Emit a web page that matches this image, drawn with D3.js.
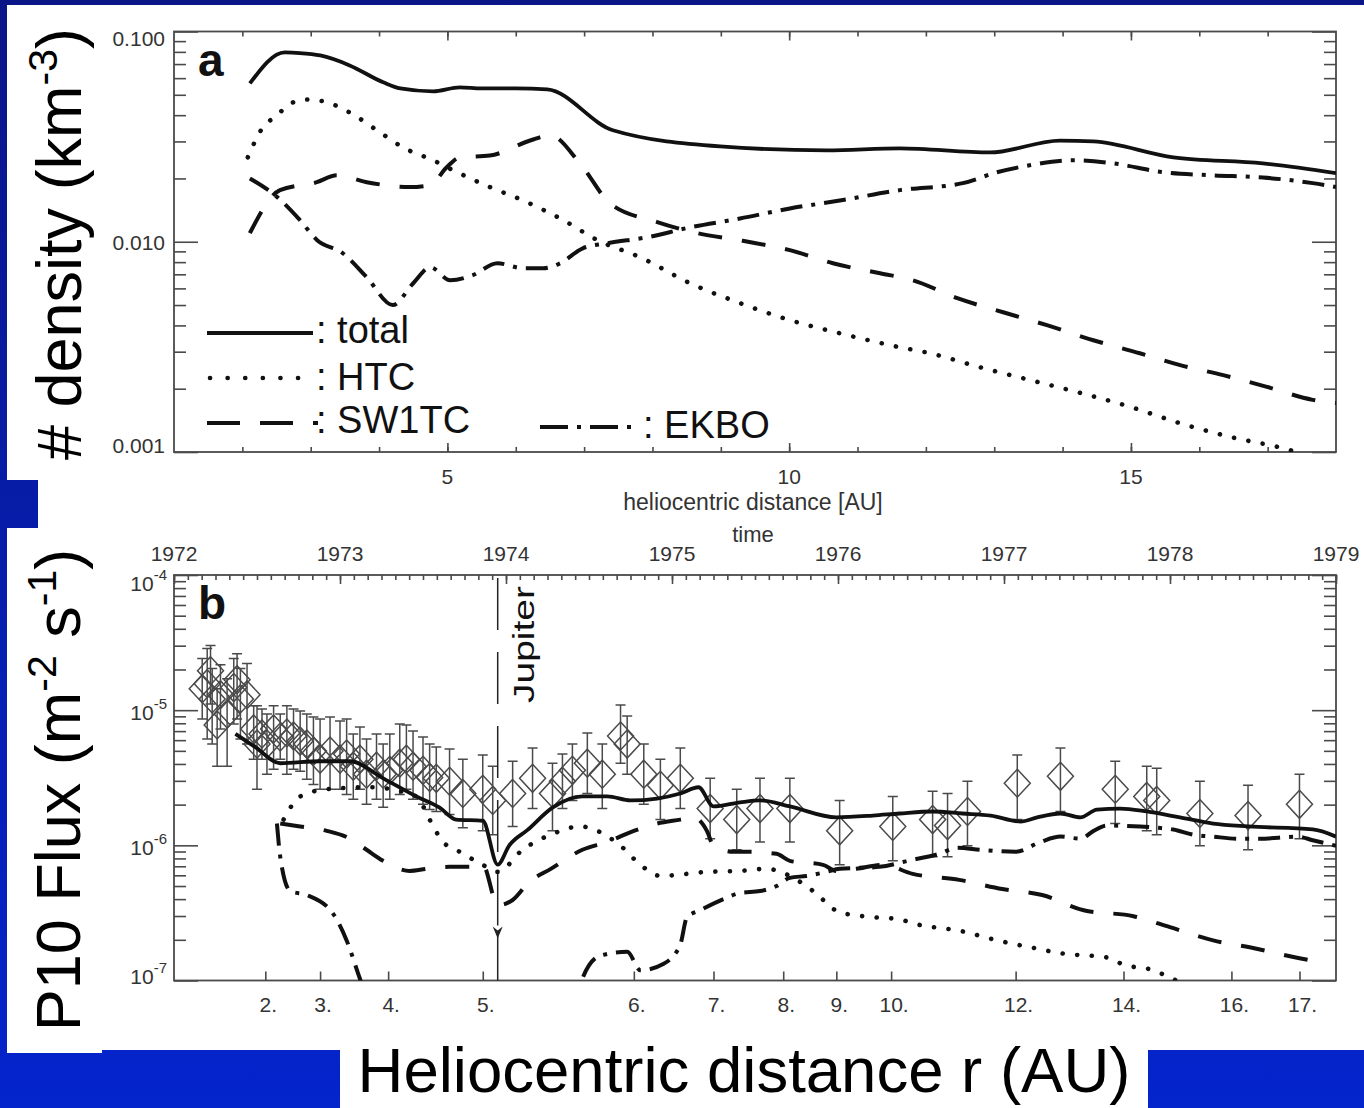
<!DOCTYPE html>
<html>
<head>
<meta charset="utf-8">
<title>dust density and P10 flux</title>
<script src="https://cdn.jsdelivr.net/npm/d3@7"></script>
<style>
  body { margin: 0; background: #fff; }
  svg { display: block; font-family: "Liberation Sans", Arial, Helvetica, sans-serif; }
</style>
</head>
<body>
<svg id="chart" width="1364" height="1108"></svg>
<script>
//panel a: number density [km-3] against heliocentric distance [AU]
let aTotalDist = [2.11, 2.62, 2.84, 3.14, 3.57, 4.06, 4.31, 4.79, 5.18, 5.5, 6.0, 6.46, 7.42, 8.99, 10.55, 11.62, 12.94, 13.96, 14.45, 15.62, 16.93, 18.0];
let aTotal = [0.0566, 0.0795, 0.0790, 0.0769, 0.0690, 0.0573, 0.0536, 0.0519, 0.0542, 0.0536, 0.0536, 0.0530, 0.0339, 0.0284, 0.0272, 0.0278, 0.0266, 0.0303, 0.0300, 0.0252, 0.0236, 0.0212];

let aHtcDist = [2.08, 2.30, 2.51, 2.70, 2.99, 3.24, 3.57, 3.97, 4.35, 4.79, 5.08, 5.62, 6.11, 6.69, 7.19, 7.82, 8.55, 9.28, 10.01, 10.74, 11.62, 12.06, 12.79, 13.52, 14.26, 14.99, 15.72, 16.45, 17.33, 18.0];
let aHtc = [0.0252, 0.0350, 0.0399, 0.0455, 0.0475, 0.0460, 0.0412, 0.0339, 0.0281, 0.0244, 0.0219, 0.0182, 0.0157, 0.0127, 0.0102, 0.00844, 0.00635, 0.00511, 0.00424, 0.00367, 0.00315, 0.00295, 0.00253, 0.00220, 0.00191, 0.00164, 0.00137, 0.00118, 0.00102, 0.00085];

let aSwDist = [2.11, 2.55, 3.09, 3.38, 3.82, 4.45, 4.75, 4.99, 5.18, 5.62, 6.21, 6.50, 6.98, 7.38, 8.07, 8.65, 9.32, 10.01, 10.64, 11.33, 11.81, 12.46, 13.13, 13.77, 14.45, 15.13, 15.72, 16.35, 16.99, 17.66, 18.0];
let aSw = [0.0110, 0.0176, 0.0192, 0.0207, 0.0192, 0.0182, 0.0186, 0.0226, 0.0252, 0.0257, 0.0303, 0.0321, 0.0226, 0.0152, 0.0124, 0.0110, 0.0101, 0.00912, 0.00790, 0.00708, 0.00656, 0.00539, 0.00462, 0.00401, 0.00340, 0.00295, 0.00259, 0.00232, 0.00204, 0.00177, 0.00171];

let aEkDist = [2.11, 2.51, 2.84, 3.09, 3.47, 3.82, 4.20, 4.50, 4.75, 5.04, 5.37, 5.73, 6.11, 6.40, 6.65, 6.98, 7.34, 7.92, 8.55, 9.28, 10.01, 10.74, 11.62, 12.54, 13.04, 13.52, 14.15, 14.74, 15.47, 16.20, 16.93, 17.66, 18.0];
let aEk = [0.0200, 0.0163, 0.0127, 0.0102, 0.00882, 0.00678, 0.00500, 0.00635, 0.00756, 0.00656, 0.00693, 0.00790, 0.00748, 0.00748, 0.00790, 0.00931, 0.00984, 0.0105, 0.0117, 0.0129, 0.0144, 0.0157, 0.0176, 0.0190, 0.0214, 0.0231, 0.0244, 0.0236, 0.0214, 0.0207, 0.0202, 0.0190, 0.0182];

//panel b: model flux [m-2 s-1] against time
let bTotalYear = [1972.37, 1972.49, 1972.64, 1972.88, 1973.06, 1973.26, 1973.46, 1973.60, 1973.70, 1973.86, 1973.95, 1974.02, 1974.13, 1974.28, 1974.46, 1974.61, 1974.75, 1974.91, 1975.05, 1975.16, 1975.25, 1975.41, 1975.53, 1975.71, 1975.99, 1976.21, 1976.37, 1976.57, 1976.75, 1976.92, 1977.10, 1977.20, 1977.34, 1977.46, 1977.56, 1977.70, 1977.86, 1978.06, 1978.26, 1978.47, 1978.86, 1979.00];
let bTotal = [6.67e-6, 5.33e-6, 4.05e-6, 4.19e-6, 4.19e-6, 3.13e-6, 2.30e-6, 1.90e-6, 1.55e-6, 1.52e-6, 7.2e-7, 1.0e-6, 1.3e-6, 1.9e-6, 2.3e-6, 2.30e-6, 2.15e-6, 2.22e-6, 2.42e-6, 2.69e-6, 1.94e-6, 2.08e-6, 2.15e-6, 1.94e-6, 1.61e-6, 1.66e-6, 1.72e-6, 1.78e-6, 1.72e-6, 1.66e-6, 1.50e-6, 1.61e-6, 1.72e-6, 1.61e-6, 1.84e-6, 1.87e-6, 1.78e-6, 1.61e-6, 1.45e-6, 1.38e-6, 1.31e-6, 1.16e-6];

let bHtcYear = [1972.66, 1972.76, 1972.92, 1973.18, 1973.46, 1973.54, 1973.62, 1973.70, 1973.86, 1973.95, 1974.10, 1974.27, 1974.45, 1974.55, 1974.69, 1974.81, 1974.93, 1975.21, 1975.41, 1975.57, 1975.71, 1975.85, 1976.01, 1976.21, 1976.37, 1976.45, 1976.75, 1976.96, 1977.16, 1977.36, 1977.62, 1977.72, 1977.90, 1978.00, 1978.12];
let bHtc = [1.55e-6, 2.30e-6, 2.60e-6, 2.69e-6, 2.30e-6, 1.55e-6, 1.06e-6, 9.27e-7, 7.17e-7, 6.36e-7, 9.27e-7, 1.20e-6, 1.38e-6, 1.28e-6, 9.93e-7, 7.17e-7, 5.94e-7, 6.36e-7, 6.47e-7, 6.70e-7, 5.94e-7, 4.59e-7, 3.20e-7, 2.94e-7, 2.84e-7, 2.65e-7, 2.31e-7, 1.98e-7, 1.76e-7, 1.58e-7, 1.48e-7, 1.31e-7, 1.19e-7, 1.05e-7, 9.0e-8];

let bSwYear = [1972.64, 1972.76, 1972.92, 1973.06, 1973.16, 1973.26, 1973.42, 1973.52, 1973.66, 1973.80, 1973.86, 1973.95, 1974.04, 1974.14, 1974.27, 1974.46, 1974.61, 1974.77, 1974.91, 1975.05, 1975.13, 1975.21, 1975.25, 1975.37, 1975.47, 1975.63, 1975.71, 1975.91, 1975.99, 1976.11, 1976.27, 1976.45, 1976.73, 1976.99, 1977.23, 1977.48, 1977.78, 1978.00, 1978.26, 1978.48, 1978.78, 1978.86];
let bSw = [1.45e-6, 1.38e-6, 1.28e-6, 1.12e-6, 9.27e-7, 7.68e-7, 6.47e-7, 6.70e-7, 6.93e-7, 6.93e-7, 7.17e-7, 3.6e-7, 3.94e-7, 5.36e-7, 6.70e-7, 9.27e-7, 1.06e-6, 1.28e-6, 1.45e-6, 1.55e-6, 1.61e-6, 1.28e-6, 9.93e-7, 8.95e-7, 8.95e-7, 8.65e-7, 7.68e-7, 7.17e-7, 6.47e-7, 6.70e-7, 7.17e-7, 6.15e-7, 5.55e-7, 4.75e-7, 4.29e-7, 3.31e-7, 2.99e-7, 2.48e-7, 1.98e-7, 1.76e-7, 1.46e-7, 1.40e-7];

let bEkYear = [1972.62, 1972.64, 1972.70, 1972.80, 1972.96, 1973.04, 1973.12, 1973.30, 1974.00, 1974.40, 1974.46, 1974.57, 1974.73, 1974.81, 1974.95, 1975.05, 1975.09, 1975.17, 1975.31, 1975.41, 1975.53, 1975.63, 1975.71, 1975.81, 1975.93, 1976.01, 1976.25, 1976.42, 1976.61, 1976.72, 1976.86, 1977.07, 1977.22, 1977.34, 1977.46, 1977.54, 1977.62, 1977.82, 1977.92, 1978.02, 1978.14, 1978.26, 1978.41, 1978.54, 1978.77, 1978.86, 1979.00];
let bEk = [1.45e-6, 8.22e-7, 4.59e-7, 4.29e-7, 3.10e-7, 1.98e-7, 1.03e-7, 3e-8, 1e-8, 5e-8, 1.03e-7, 1.53e-7, 1.63e-7, 1.19e-7, 1.33e-7, 1.85e-7, 2.94e-7, 3.31e-7, 4.00e-7, 4.44e-7, 4.59e-7, 5.00e-7, 5.74e-7, 5.94e-7, 6.36e-7, 6.70e-7, 6.93e-7, 7.68e-7, 8.65e-7, 9.59e-7, 9.27e-7, 8.95e-7, 1.06e-6, 1.16e-6, 1.12e-6, 1.28e-6, 1.40e-6, 1.38e-6, 1.35e-6, 1.31e-6, 1.20e-6, 1.16e-6, 1.12e-6, 1.12e-6, 1.16e-6, 1.09e-6, 9.93e-7];

//P10 measured flux with error bars
let pYear = [1972.17, 1972.20, 1972.22, 1972.23, 1972.26, 1972.28, 1972.32, 1972.36, 1972.38, 1972.40, 1972.44, 1972.48, 1972.50, 1972.53, 1972.56, 1972.60, 1972.64, 1972.68, 1972.72, 1972.76, 1972.80, 1972.84, 1972.88, 1972.94, 1973.00, 1973.04, 1973.08, 1973.12, 1973.16, 1973.22, 1973.26, 1973.30, 1973.36, 1973.40, 1973.44, 1973.50, 1973.54, 1973.58, 1973.66, 1973.74, 1973.86, 1973.92, 1974.04, 1974.16, 1974.28, 1974.34, 1974.40, 1974.49, 1974.58, 1974.69, 1974.73, 1974.83, 1974.93, 1975.05, 1975.23, 1975.39, 1975.53, 1975.71, 1976.01, 1976.33, 1976.57, 1976.66, 1976.78, 1977.08, 1977.34, 1977.67, 1977.86, 1977.92, 1978.18, 1978.47, 1978.78];
let pFlux = [1.44e-5, 1.57e-5, 1.96e-5, 1.21e-5, 7.78e-6, 1.30e-5, 9.38e-6, 1.47e-5, 1.68e-5, 1.21e-5, 1.30e-5, 7.26e-6, 5.61e-6, 6.67e-6, 5.61e-6, 7.26e-6, 6.33e-6, 6.78e-6, 6.44e-6, 5.91e-6, 5.61e-6, 4.98e-6, 4.34e-6, 4.98e-6, 4.34e-6, 4.73e-6, 3.85e-6, 4.34e-6, 3.36e-6, 3.85e-6, 3.36e-6, 3.59e-6, 4.05e-6, 4.34e-6, 3.85e-6, 3.59e-6, 3.18e-6, 3.13e-6, 2.98e-6, 2.42e-6, 2.60e-6, 2.15e-6, 2.42e-6, 3.13e-6, 2.42e-6, 2.98e-6, 3.59e-6, 4.05e-6, 3.36e-6, 6.44e-6, 5.61e-6, 3.36e-6, 2.78e-6, 3.13e-6, 1.87e-6, 1.55e-6, 1.87e-6, 1.87e-6, 1.28e-6, 1.38e-6, 1.55e-6, 1.40e-6, 1.78e-6, 2.88e-6, 3.24e-6, 2.60e-6, 2.30e-6, 2.15e-6, 1.72e-6, 1.66e-6, 2.01e-6];
let pLow = [8.61e-6, 6.11e-6, 1.11e-5, 5.61e-6, 3.85e-6, 7.26e-6, 3.85e-6, 7.90e-6, 8.61e-6, 6.11e-6, 5.61e-6, 4.34e-6, 2.60e-6, 4.34e-6, 3.36e-6, 3.66e-6, 4.34e-6, 3.36e-6, 3.66e-6, 3.53e-6, 3.08e-6, 2.82e-6, 2.60e-6, 2.60e-6, 2.60e-6, 2.38e-6, 2.19e-6, 2.60e-6, 2.01e-6, 2.19e-6, 1.91e-6, 2.19e-6, 2.38e-6, 2.60e-6, 2.19e-6, 2.01e-6, 1.84e-6, 1.78e-6, 1.69e-6, 1.35e-6, 1.28e-6, 1.20e-6, 1.38e-6, 1.87e-6, 1.28e-6, 1.87e-6, 2.15e-6, 2.42e-6, 1.87e-6, 4.05e-6, 3.36e-6, 2.01e-6, 1.55e-6, 1.87e-6, 1.12e-6, 9.27e-7, 1.06e-6, 1.06e-6, 7.17e-7, 7.68e-7, 8.22e-7, 8.22e-7, 9.93e-7, 1.55e-6, 1.78e-6, 1.45e-6, 1.28e-6, 1.20e-6, 9.93e-7, 9.27e-7, 1.12e-6];
let pHigh = [2.41e-5, 2.86e-5, 3.01e-5, 2.03e-5, 1.44e-5, 2.17e-5, 1.71e-5, 2.41e-5, 2.62e-5, 2.03e-5, 2.21e-5, 1.08e-5, 1.08e-5, 1.02e-5, 9.38e-6, 1.08e-5, 9.38e-6, 1.08e-5, 1.02e-5, 9.88e-6, 9.38e-6, 8.91e-6, 8.61e-6, 8.91e-6, 8.32e-6, 8.61e-6, 6.67e-6, 7.52e-6, 6.11e-6, 6.67e-6, 5.61e-6, 6.67e-6, 7.90e-6, 7.78e-6, 7.02e-6, 6.33e-6, 5.61e-6, 5.33e-6, 5.15e-6, 4.34e-6, 4.65e-6, 3.85e-6, 4.19e-6, 5.24e-6, 4.05e-6, 4.73e-6, 5.61e-6, 6.78e-6, 5.61e-6, 1.09e-5, 9.07e-6, 5.61e-6, 4.34e-6, 5.24e-6, 3.13e-6, 2.60e-6, 3.13e-6, 3.13e-6, 2.15e-6, 2.30e-6, 2.51e-6, 2.42e-6, 2.98e-6, 4.65e-6, 5.24e-6, 4.19e-6, 3.85e-6, 3.72e-6, 2.98e-6, 2.78e-6, 3.36e-6];

//tick values and labels
let aXTicks = [5, 10, 15];
let aYTicks = [0.001, 0.01, 0.1];
let aYLabels = ["0.001", "0.010", "0.100"];
let yearTicks = [1972, 1973, 1974, 1975, 1976, 1977, 1978, 1979];
let distLabels = ["2.", "3.", "4.", "5.", "6.", "7.", "8.", "9.", "10.", "12.", "14.", "16.", "17."];
let distYears = [1972.55, 1972.88, 1973.29, 1973.86, 1974.77, 1975.25, 1975.67, 1975.99, 1976.32, 1977.07, 1977.72, 1978.37, 1978.78];
let bYTicks = [1e-7, 1e-6, 1e-5, 1e-4];
let bYExp = ["-7", "-6", "-5", "-4"];
let jupiterYear = 1973.95;
let jupiterArrowFlux = 2.3e-7;

//layout
let svg = d3.select("#chart");
let W = +svg.attr("width"), H = +svg.attr("height");
let left = 174, right = 1336;
let aTop = 31.5, aBottom = 452;
let bTop = 575, bBottom = 980.5;
let axisColor = "#4a4a4a", ink = "#111", labelColor = "#333";

//slide background
let defs = svg.append("defs");
let grad = defs.append("linearGradient")
    .attr("id", "slideBlue")
    .attr("gradientUnits", "userSpaceOnUse")
    .attr("x1", 0).attr("y1", 0).attr("x2", 0).attr("y2", H);
grad.append("stop").attr("offset", 0).attr("stop-color", "#0a1688");
grad.append("stop").attr("offset", 1).attr("stop-color", "#0424cc");

svg.append("rect").attr("width", W).attr("height", H).attr("fill", "url(#slideBlue)");
svg.append("rect").attr("x", 7).attr("y", 5).attr("width", W - 7).attr("height", 1045).attr("fill", "#fff");
svg.append("rect").attr("x", 0).attr("y", 480).attr("width", 38).attr("height", 48).attr("fill", "url(#slideBlue)");
svg.append("rect").attr("x", 7).attr("y", 1050).attr("width", 95).attr("height", 3).attr("fill", "#fff");
svg.append("rect").attr("x", 340).attr("y", 1050).attr("width", 808).attr("height", H - 1050).attr("fill", "#fff");

//scales
let xa = d3.scaleLinear().domain([1, 18]).range([left, right]);
let ya = d3.scaleLog().domain([0.001, 0.1]).range([aBottom, aTop]);
let xb = d3.scaleLinear().domain([1972, 1979]).range([left, right]);
let yb = d3.scaleLog().domain([1e-7, 1e-4]).range([bBottom, bTop]);

//minor ticks of a log axis, 2..9 in each decade
function logMinor(lo, hi) {
    let out = [];
    for (let e = lo; e < hi; e++) {
        for (let k = 2; k < 10; k++) out.push(k * Math.pow(10, e));
    }
    return out;
}

//draws tick marks only, labels come separately
function tickMarks(g, axis) {
    g.call(axis);
    g.select(".domain").remove();
    g.selectAll(".tick text").remove();
    g.selectAll(".tick line").attr("stroke", axisColor).attr("stroke-width", 1.6);
}

function panelAxes(x, y, top, bottom, opts) {
    let g = svg.append("g");
    g.append("g").attr("transform", "translate(" + left + ",0)")
        .call(tickMarks, d3.axisLeft(y).tickValues(opts.yMinor).tickSize(-12));
    g.append("g").attr("transform", "translate(" + left + ",0)")
        .call(tickMarks, d3.axisLeft(y).tickValues(opts.yMajor).tickSize(-24));
    g.append("g").attr("transform", "translate(" + right + ",0)")
        .call(tickMarks, d3.axisRight(y).tickValues(opts.yMinor).tickSize(-12));
    g.append("g").attr("transform", "translate(" + right + ",0)")
        .call(tickMarks, d3.axisRight(y).tickValues(opts.yMajor).tickSize(-24));
    g.append("g").attr("transform", "translate(0," + bottom + ")")
        .call(tickMarks, d3.axisBottom(x).tickValues(opts.bottomMinor).tickSize(-5));
    g.append("g").attr("transform", "translate(0," + bottom + ")")
        .call(tickMarks, d3.axisBottom(x).tickValues(opts.bottomMajor).tickSize(-9));
    g.append("g").attr("transform", "translate(0," + top + ")")
        .call(tickMarks, d3.axisTop(x).tickValues(opts.topMinor).tickSize(-5));
    g.append("g").attr("transform", "translate(0," + top + ")")
        .call(tickMarks, d3.axisTop(x).tickValues(opts.topMajor).tickSize(-9));
    g.append("rect")
        .attr("x", left).attr("y", top)
        .attr("width", right - left).attr("height", bottom - top)
        .attr("fill", "none").attr("stroke", axisColor).attr("stroke-width", 1.8);
}

//line styles
let solid = {width: 3.8, dash: null, cap: "butt"};
let dotted = {width: 4.6, dash: "0.1,14.5", cap: "round"};
let dashed = {width: 4, dash: "24,20", cap: "butt"};
let dashDot = {width: 4, dash: "22,9,4,9", cap: "butt"};

function curve(g, xs, ys, x, y, st) {
    let line = d3.line()
        .x((d, i) => x(xs[i]))
        .y(d => y(d))
        .curve(d3.curveMonotoneX);
    g.append("path")
        .datum(ys)
        .attr("d", line)
        .attr("fill", "none")
        .attr("stroke", ink)
        .attr("stroke-width", st.width)
        .attr("stroke-dasharray", st.dash)
        .attr("stroke-linecap", st.cap);
}

function clip(id, top, bottom) {
    defs.append("clipPath").attr("id", id)
        .append("rect")
        .attr("x", left).attr("y", top)
        .attr("width", right - left).attr("height", bottom - top);
}
clip("clipA", aTop, aBottom);
clip("clipB", bTop, bBottom);

//---------------- panel a ----------------
panelAxes(xa, ya, aTop, aBottom, {
    yMinor: logMinor(-3, -1),
    yMajor: aYTicks,
    bottomMinor: d3.range(2, 18),
    bottomMajor: aXTicks,
    topMinor: d3.range(2, 18),
    topMajor: aXTicks
});

let ga = svg.append("g").attr("clip-path", "url(#clipA)");
curve(ga, aHtcDist, aHtc, xa, ya, dotted);
curve(ga, aSwDist, aSw, xa, ya, dashed);
curve(ga, aEkDist, aEk, xa, ya, dashDot);
curve(ga, aTotalDist, aTotal, xa, ya, solid);

//y labels of a
svg.append("g").selectAll("text")
    .data(aYTicks)
    .join("text")
    .attr("x", 165)
    .attr("y", d => Math.min(Math.max(ya(d) + 8, aTop + 14), aBottom + 1))
    .attr("text-anchor", "end")
    .attr("font-size", 21)
    .attr("fill", labelColor)
    .text((d, i) => aYLabels[i]);

//x labels of a
svg.append("g").selectAll("text")
    .data(aXTicks)
    .join("text")
    .attr("x", d => xa(d))
    .attr("y", 484)
    .attr("text-anchor", "middle")
    .attr("font-size", 21)
    .attr("fill", labelColor)
    .text(d => d);

svg.append("text")
    .attr("x", 753).attr("y", 510)
    .attr("text-anchor", "middle")
    .attr("font-size", 23)
    .attr("fill", labelColor)
    .text("heliocentric distance [AU]");

svg.append("text")
    .attr("x", 198).attr("y", 76)
    .attr("font-size", 46).attr("font-weight", "bold")
    .attr("fill", ink)
    .text("a");

//legend of a
let legendItems = [
    {label: ": total", st: solid, x1: 207, x2: 313, y: 333, tx: 316, ty: 343, dash: null},
    {label: ": HTC", st: dotted, x1: 210, x2: 312, y: 378, tx: 316, ty: 390, dash: "0.1,17.5"},
    {label: ": SW1TC", st: dashed, x1: 207, x2: 318, y: 423, tx: 316, ty: 433, dash: "33,20"},
    {label: ": EKBO", st: dashDot, x1: 540, x2: 640, y: 427, tx: 643, ty: 438, dash: "28,9,4,9"}
];
let lg = svg.append("g");
legendItems.forEach(d => {
    lg.append("line")
        .attr("x1", d.x1).attr("x2", d.x2)
        .attr("y1", d.y).attr("y2", d.y)
        .attr("stroke", ink)
        .attr("stroke-width", d.st.width)
        .attr("stroke-dasharray", d.dash)
        .attr("stroke-linecap", d.st.cap);
    lg.append("text")
        .attr("x", d.tx).attr("y", d.ty)
        .attr("font-size", 38)
        .attr("fill", ink)
        .text(d.label);
});

//---------------- panel b ----------------
panelAxes(xb, yb, bTop, bBottom, {
    yMinor: logMinor(-7, -4),
    yMajor: bYTicks,
    bottomMinor: [],
    bottomMajor: distYears,
    topMinor: d3.range(1972, 1979.001, 1 / 12),
    topMajor: yearTicks
});

let gb = svg.append("g").attr("clip-path", "url(#clipB)");

//measured points: error bars and diamonds
let pts = gb.append("g")
    .attr("fill", "none")
    .attr("stroke", "#4a4a4a")
    .attr("stroke-width", 1.5)
    .selectAll("g")
    .data(d3.range(pYear.length))
    .join("g");
pts.append("line")
    .attr("x1", i => xb(pYear[i])).attr("x2", i => xb(pYear[i]))
    .attr("y1", i => yb(pLow[i])).attr("y2", i => yb(pHigh[i]));
pts.append("line")
    .attr("x1", i => xb(pYear[i]) - 5).attr("x2", i => xb(pYear[i]) + 5)
    .attr("y1", i => yb(pLow[i])).attr("y2", i => yb(pLow[i]));
pts.append("line")
    .attr("x1", i => xb(pYear[i]) - 5).attr("x2", i => xb(pYear[i]) + 5)
    .attr("y1", i => yb(pHigh[i])).attr("y2", i => yb(pHigh[i]));
pts.append("path")
    .attr("d", i => {
        let cx = xb(pYear[i]), cy = yb(pFlux[i]);
        return "M" + cx + "," + (cy - 14) + "L" + (cx + 13) + "," + cy +
               "L" + cx + "," + (cy + 14) + "L" + (cx - 13) + "," + cy + "Z";
    });

curve(gb, bHtcYear, bHtc, xb, yb, dotted);
curve(gb, bSwYear, bSw, xb, yb, dashed);
curve(gb, bEkYear, bEk, xb, yb, dashDot);
curve(gb, bTotalYear, bTotal, xb, yb, solid);

//Jupiter fly-by marker
let jx = xb(jupiterYear), jy = yb(jupiterArrowFlux);
svg.append("line")
    .attr("x1", jx).attr("x2", jx)
    .attr("y1", bTop + 3).attr("y2", jy - 6)
    .attr("stroke", "#222").attr("stroke-width", 1.5)
    .attr("stroke-dasharray", "52,22");
svg.append("line")
    .attr("x1", jx).attr("x2", jx)
    .attr("y1", jy).attr("y2", bBottom)
    .attr("stroke", "#222").attr("stroke-width", 1.5);
svg.append("path")
    .attr("d", "M" + (jx - 5) + "," + (jy - 5) + "L" + jx + "," + (jy - 1) + "L" + (jx + 5) + "," + (jy - 5) +
               "L" + jx + "," + (jy + 7) + "Z")
    .attr("fill", "#222");
svg.append("text")
    .attr("transform", "translate(" + (jx + 36) + ",703) rotate(-90) scale(1.3,1)")
    .attr("font-size", 30)
    .attr("fill", ink)
    .text("Jupiter");

//y labels of b as powers of ten
let byl = svg.append("g").selectAll("text")
    .data(bYTicks)
    .join("text")
    .attr("x", 167)
    .attr("y", d => Math.min(Math.max(yb(d) + 10, bTop + 16), bBottom + 3))
    .attr("text-anchor", "end")
    .attr("font-size", 21)
    .attr("fill", labelColor);
byl.append("tspan").text("10");
byl.append("tspan").attr("dy", -11).attr("font-size", 15).text((d, i) => bYExp[i]);

//year labels on top
svg.append("g").selectAll("text")
    .data(yearTicks)
    .join("text")
    .attr("x", d => xb(d))
    .attr("y", 561)
    .attr("text-anchor", "middle")
    .attr("font-size", 21)
    .attr("fill", labelColor)
    .text(d => d);

svg.append("text")
    .attr("x", 753).attr("y", 542)
    .attr("text-anchor", "middle")
    .attr("font-size", 22)
    .attr("fill", labelColor)
    .text("time");

//distance labels on bottom
svg.append("g").selectAll("text")
    .data(distYears)
    .join("text")
    .attr("x", d => xb(d) + 3)
    .attr("y", 1012)
    .attr("text-anchor", "middle")
    .attr("font-size", 21)
    .attr("fill", labelColor)
    .text((d, i) => distLabels[i]);

svg.append("text")
    .attr("x", 198).attr("y", 619)
    .attr("font-size", 46).attr("font-weight", "bold")
    .attr("fill", ink)
    .text("b");

//slide titles
let t1 = svg.append("text")
    .attr("transform", "translate(81,244) rotate(-90)")
    .attr("text-anchor", "middle")
    .attr("font-size", 63)
    .attr("fill", "#000");
t1.append("tspan").text("# density (km");
t1.append("tspan").attr("dy", -24).attr("font-size", 41).text("-3");
t1.append("tspan").attr("dy", 24).text(")");

let t2 = svg.append("text")
    .attr("transform", "translate(80,790) rotate(-90)")
    .attr("text-anchor", "middle")
    .attr("font-size", 63)
    .attr("fill", "#000");
t2.append("tspan").text("P10 Flux (m");
t2.append("tspan").attr("dy", -24).attr("font-size", 41).text("-2");
t2.append("tspan").attr("dy", 24).text(" s");
t2.append("tspan").attr("dy", -24).attr("font-size", 41).text("-1");
t2.append("tspan").attr("dy", 24).text(")");

svg.append("text")
    .attr("x", 744).attr("y", 1092)
    .attr("text-anchor", "middle")
    .attr("font-size", 63.5)
    .attr("fill", "#000")
    .text("Heliocentric distance r (AU)");
</script>
</body>
</html>
